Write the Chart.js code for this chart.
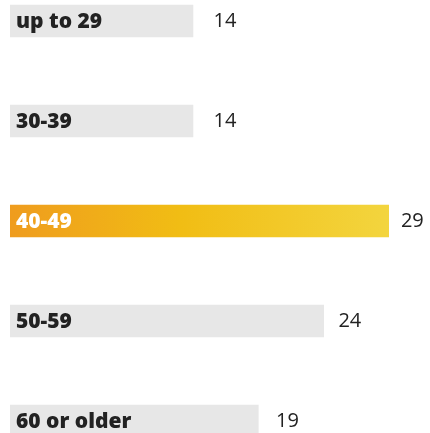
<!DOCTYPE html>
<html>
<head>
<meta charset="utf-8">
<script src="https://cdn.jsdelivr.net/npm/chart.js@4/dist/chart.umd.min.js"></script>
<style>
  html, body { margin: 0; padding: 0; background: #fff; overflow: hidden; }
  #wrap { position: absolute; left: 0; top: -29px; width: 430px; height: 500px; }
</style>
</head>
<body>
<div id="wrap"><canvas id="ageChart" width="430" height="500"></canvas></div>
<script>
// age groups and share values
var categories = ['up to 29', '30-39', '40-49', '50-59', '60 or older'];
var values = [14, 14, 29, 24, 19];
var highlight = 2; // the 40-49 bar

var ctx = document.getElementById('ageChart').getContext('2d');

var barLabels = {
    id: 'barLabels',
    afterDatasetsDraw: function(chart) {
        var c = chart.ctx;
        var meta = chart.getDatasetMeta(0);
        c.save();
        c.textBaseline = 'middle';
        c.textAlign = 'left';
        meta.data.forEach(function(bar, i) {
            // category name inside the bar
            c.font = '800 21px "Open Sans", sans-serif';
            c.fillStyle = i === highlight ? '#ffffff' : '#222222';
            c.fillText(categories[i], 16, bar.y + 1);
            // value to the right (gap shrinks a little on longer bars)
            c.font = '20px "Open Sans", sans-serif';
            c.fillStyle = '#222222';
            c.fillText(values[i], bar.x * 0.956 + 29, bar.y);
        });
        c.restore();
    }
};

var ageChart = new Chart(ctx, {
    type: 'bar',
    data: {
        labels: categories,
        datasets: [{
            data: values,
            backgroundColor: function(context) {
                if (context.dataIndex !== highlight) return '#e7e7e7';
                var area = context.chart.chartArea;
                if (!area) return '#f1be14';
                var g = context.chart.ctx.createLinearGradient(area.left, 0, area.right, 0);
                g.addColorStop(0, '#ef9c1e');
                g.addColorStop(0.45, '#f1bd14');
                g.addColorStop(1, '#f3d53e');
                return g;
            },
            borderWidth: 0,
            borderSkipped: false,
            barThickness: 32
        }]
    },
    options: {
        indexAxis: 'y',
        responsive: false,
        animation: false,
        layout: { padding: { left: 10, right: 41, top: 0, bottom: 0 } },
        plugins: {
            legend: { display: false },
            tooltip: { enabled: false }
        },
        scales: {
            x: { display: false, min: 0, max: 29 },
            y: { display: false }
        }
    },
    plugins: [barLabels]
});
</script>
</body>
</html>
